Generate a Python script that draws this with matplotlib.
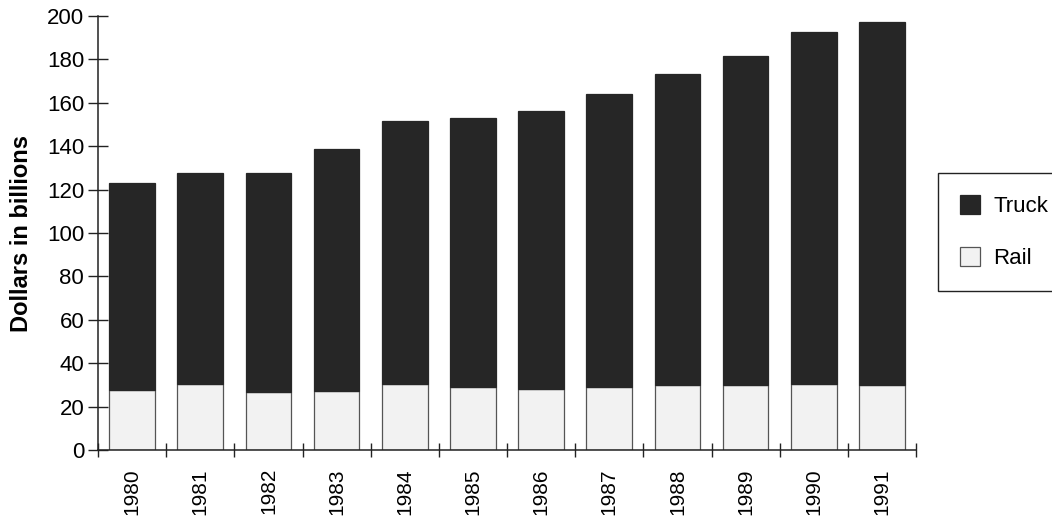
import matplotlib
matplotlib.use("Agg")
import matplotlib.pyplot as plt
import numpy as np

years = ["1980", "1981", "1982", "1983", "1984", "1985",
         "1986", "1987", "1988", "1989", "1990", "1991"]
rail = [27.6, 30.3, 26.7, 27.2, 30.4, 29.2, 28.0, 28.9, 30.0, 30.0, 30.4, 30.0]
total = [123.0, 127.8, 127.5, 138.5, 151.8, 152.8, 156.2, 163.9, 173.5, 181.6, 192.8, 197.4]
truck = [t - r for t, r in zip(total, rail)]

plt.rcParams["font.family"] = ["Liberation Sans", "DejaVu Sans"]

fig = plt.figure(figsize=(10.52, 5.2), dpi=100)
ax = fig.add_axes([0.0932, 0.1346, 0.7776, 0.8346])

x = np.arange(len(years))
w = 0.67
ax.bar(x, rail, width=w, color="#f2f2f2", edgecolor="#555555", linewidth=0.9, label="Rail")
ax.bar(x, truck, width=w, bottom=rail, color="#262626", edgecolor="#262626", linewidth=0.9, label="Truck")

ax.set_xlim(-0.5, len(years) - 0.5)
ax.set_ylim(0, 200)
ax.set_yticks(np.arange(0, 201, 20))
ax.tick_params(axis="y", direction="inout", length=14, width=1, labelsize=16, pad=3, color="#222222")

ax.set_xticks(x)
ax.set_xticklabels(years, rotation=90, fontsize=15)
ax.set_xticks(np.arange(-0.5, len(years), 1.0), minor=True)
ax.tick_params(axis="x", which="major", length=0, pad=13)
ax.tick_params(axis="x", which="minor", direction="inout", length=10, width=1, color="#222222")

for side in ("top", "right"):
    ax.spines[side].set_visible(False)
for side in ("left", "bottom"):
    ax.spines[side].set_color("#222222")
    ax.spines[side].set_linewidth(1.1)

ax.set_ylabel("Dollars in billions", fontsize=17, fontweight="bold", labelpad=10)

handles, labels = ax.get_legend_handles_labels()
leg = fig.legend(handles[::-1], labels[::-1], loc="upper left",
                 bbox_to_anchor=(0.8916, 0.667), borderaxespad=0.0, fontsize=16,
                 frameon=True, fancybox=False, edgecolor="#222222",
                 facecolor="white", framealpha=1.0,
                 handlelength=0.9, handleheight=0.9, handletextpad=0.6,
                 labelspacing=1.35, borderpad=1.0)
leg.get_frame().set_linewidth(1.0)

fig.savefig("out.png", dpi=100)
